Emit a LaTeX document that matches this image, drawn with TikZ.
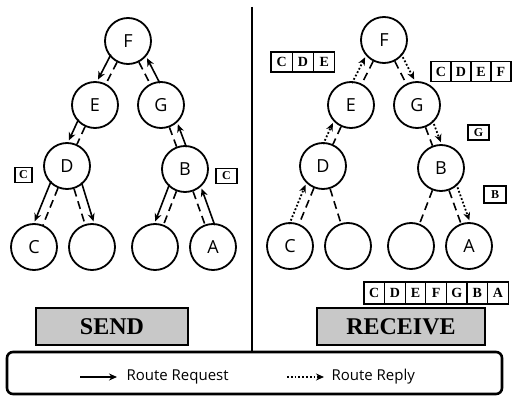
\documentclass[tikz,border=0pt]{standalone}
\usepackage{fontspec}
\setmainfont{Liberation Serif}
\setsansfont{Open Sans}
\usepackage{tikz}
\usetikzlibrary{arrows.meta,calc,positioning}
\definecolor{bannergray}{RGB}{200,200,200}

% offset arrow running beside the link between two hosts
\newcommand{\hoparrow}[4]{%
  \draw[#4, shorten <=20pt, shorten >=24pt]
    ($(#1)!9pt!#3:(#2)$) -- ($(#2)+($(#1)!9pt!#3:(#2)$)-(#1)$);}

\begin{document}
\begin{tikzpicture}[x=1pt, y=-1pt,
    host/.style={circle, draw, line width=1.8pt, minimum size=46pt, inner sep=0pt,
      font=\sffamily\fontsize{18}{18}\selectfont},
    link/.style={line width=1.6pt, dash pattern=on 8pt off 5pt},
    req/.style={-{Stealth[length=8pt, width=7pt]}, line width=1.6pt},
    rep/.style={-{Stealth[length=8pt, width=7pt]}, line width=1.8pt, dotted},
    tag/.style={draw, line width=1.1pt, inner sep=0pt, minimum width=19pt, minimum height=15pt,
      font=\bfseries\fontsize{12}{12}\selectfont},
    cell/.style={draw, line width=1.1pt, inner sep=0pt, minimum height=20pt,
      font=\bfseries\fontsize{14}{14}\selectfont},
    banner/.style={draw, line width=1.2pt, fill=bannergray, minimum height=37pt,
      font=\bfseries\fontsize{24}{24}\selectfont}]
  \useasboundingbox (0,0) rectangle (512,396);

  % send side
  \node[host] (sF) at (128,41) {F};
  \node[host] (sE) at (95,105) {E};
  \node[host] (sG) at (161,105) {G};
  \node[host] (sD) at (67,166) {D};
  \node[host] (sB) at (185,169) {B};
  \node[host] (sC) at (34,247) {C};
  \node[host] (sX1) at (92,247) {};
  \node[host] (sX2) at (155,247) {};
  \node[host] (sA) at (213,247) {A};
  \foreach \a/\b in {sF/sE, sF/sG, sE/sD, sG/sB, sD/sC, sD/sX1, sB/sX2, sB/sA}
    \draw[link] (\a) -- (\b);
  \hoparrow{sF}{sE}{-90}{req}
  \hoparrow{sE}{sD}{-90}{req}
  \hoparrow{sD}{sC}{-90}{req}
  \hoparrow{sD}{sX1}{90}{req}
  \hoparrow{sB}{sX2}{-90}{req}
  \hoparrow{sA}{sB}{-90}{req}
  \hoparrow{sB}{sG}{-90}{req}
  \hoparrow{sG}{sF}{-90}{req}
  \node[tag, minimum width=17pt] (sTagD) at (23.5,175) {C};
  \node[tag, minimum width=21pt] (sTagB) at (226.5,176) {C};
  \node[banner, minimum width=152pt] (send) at (112,326.5) {SEND};

  % receive side
  \node[host] (rF) at (384,40) {F};
  \node[host] (rE) at (351,105) {E};
  \node[host] (rG) at (417,105) {G};
  \node[host] (rD) at (323,166) {D};
  \node[host] (rB) at (441,168) {B};
  \node[host] (rC) at (290,246) {C};
  \node[host] (rX1) at (348,246) {};
  \node[host] (rX2) at (411,246) {};
  \node[host] (rA) at (469,246) {A};
  \foreach \a/\b in {rF/rE, rF/rG, rE/rD, rG/rB, rD/rC, rD/rX1, rB/rX2, rB/rA}
    \draw[link] (\a) -- (\b);
  \hoparrow{rC}{rD}{90}{rep}
  \hoparrow{rD}{rE}{90}{rep}
  \hoparrow{rE}{rF}{90}{rep}
  \hoparrow{rF}{rG}{90}{rep}
  \hoparrow{rG}{rB}{90}{rep}
  \hoparrow{rB}{rA}{90}{rep}
  \foreach \l [count=\i] in {C,D,E}
    \node[cell, minimum width=21.3pt] (pathE\i) at (260.35+21.3*\i,62) {\l};
  \foreach \l [count=\i] in {C,D,E,F}
    \node[cell, minimum width=20pt] (pathF\i) at (421+20*\i,71.5) {\l};
  \node[tag, minimum width=21pt] (rTagG) at (478.5,132.5) {G};
  \node[tag, minimum width=22pt, minimum height=17pt] (rTagB) at (495,194.5) {B};
  \foreach \l [count=\i] in {C,D,E,F,G,B,A}
    \node[cell, minimum width=20.6pt, minimum height=22pt] (pathA\i) at (353.7+20.6*\i,293) {\l};
  \node[banner, minimum width=168pt] (receive) at (401,326.5) {RECEIVE};

  % legend and divider
  \node[draw, line width=2.6pt, rounded corners=6pt, minimum width=495pt,
    minimum height=42pt] (legend) at (254.5,373) {};
  \coordinate (top) at (252,7);
  \draw[line width=2.8pt] (top) -- (top |- legend.north);
  \coordinate (reqA) at (80,377);
  \coordinate (reqB) at (117,377);
  \coordinate (repA) at (287,377);
  \coordinate (repB) at (324,377);
  \draw[req, line width=1.8pt] (reqA) -- (reqB);
  \draw[rep] (repA) -- (repB);
  \node[anchor=west, font=\sffamily\fontsize{15}{15}\selectfont] (reqText) at (123,377) {Route Request};
  \node[anchor=west, font=\sffamily\fontsize{15}{15}\selectfont] (repText) at (328,377) {Route Reply};
\end{tikzpicture}
\end{document}
